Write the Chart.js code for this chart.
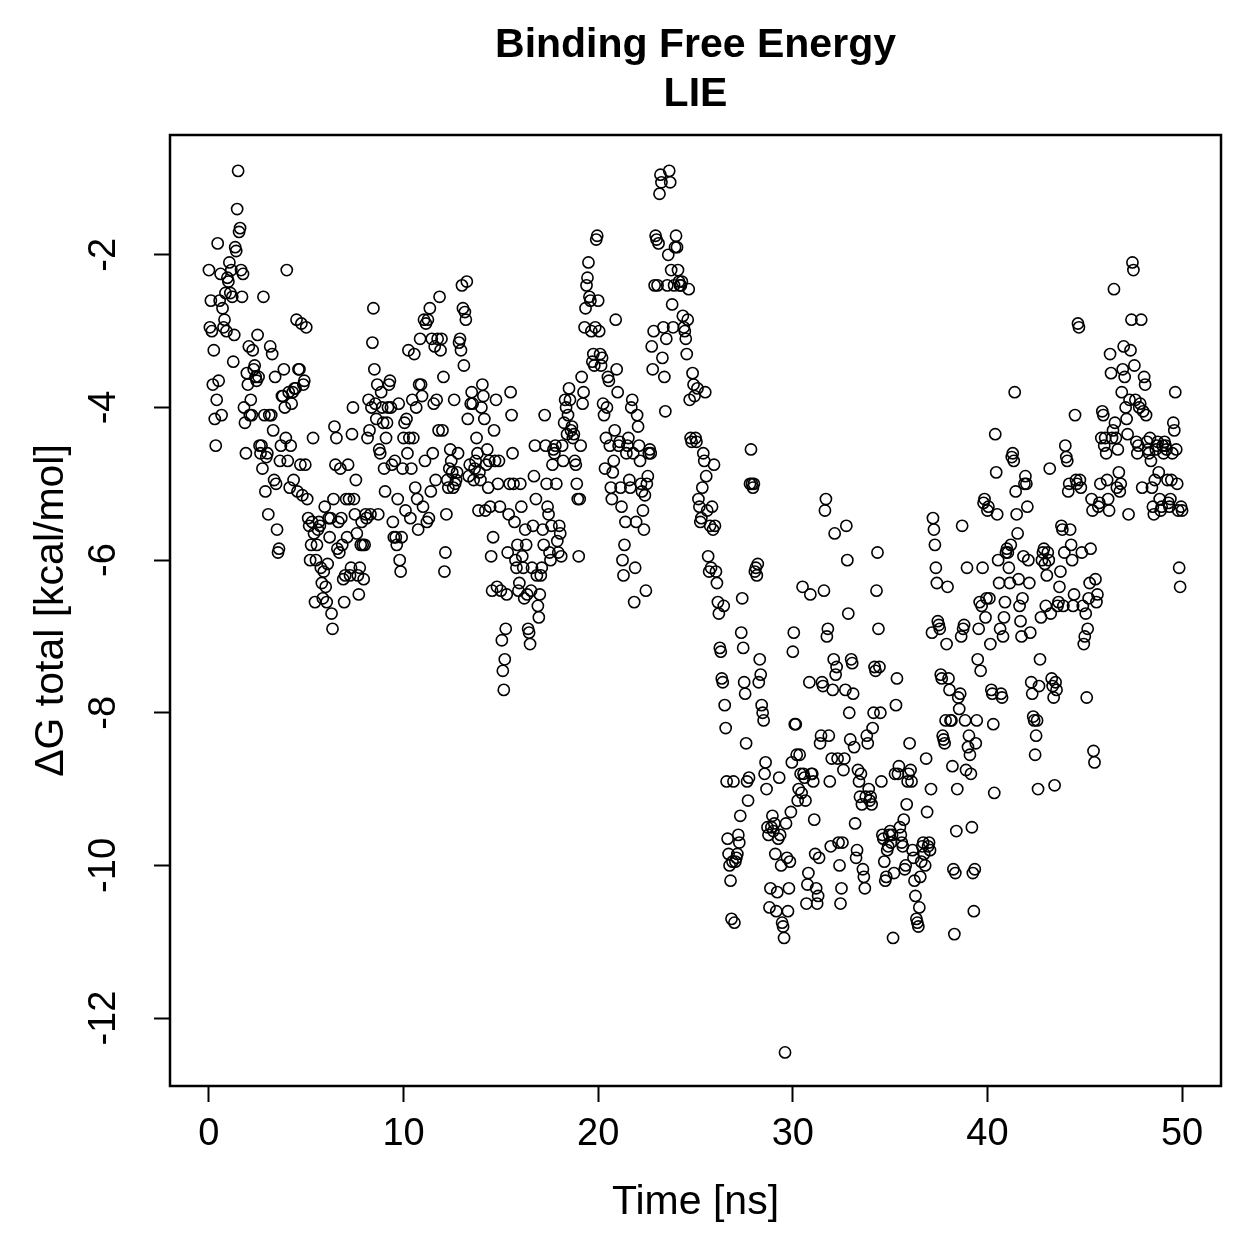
<!DOCTYPE html>
<html>
<head>
<meta charset="utf-8">
<title>Binding Free Energy - LIE</title>
<script src="https://cdn.jsdelivr.net/npm/chart.js@4.4.1/dist/chart.umd.min.js"></script>
<style>
    html, body { margin: 0; padding: 0; background: #fff; }
    canvas { display: block; }
</style>
</head>
<body>
<canvas id="lieChart" width="1259" height="1259"></canvas>
<script>
// Time between frames (ns) of the MD trajectory
const frameStepNs = 0.05;

// dG total [kcal/mol], one value per frame, split in 5 ns blocks
const dG_00_05 = [
    -2.2,-2.95,-2.6,-3.0,-3.7,-3.25,-4.15,-4.5,-3.9,-1.85,-3.65,-2.6,-2.25,-4.1,-2.7,-2.95,-2.85,-2.5,-3.0,-2.3,
    -2.35,-2.1,-2.5,-2.2,-2.55,-3.4,-3.05,-1.9,-1.95,-1.4,-0.9,-1.7,-1.65,-2.2,-2.55,-2.25,-4.0,-4.2,-4.6,-3.55,
    -3.7,-3.2,-4.1,-3.9,-4.1,-3.25,-3.5,-3.45,-3.6,-3.65,-3.05,-3.6,-4.5,-4.6,-4.5,-4.8,-2.55,-4.1,-5.1,-4.65,
    -4.6,-5.4,-4.1,-3.2,-4.1,-3.3,-4.3,-4.95,-3.6,-5.0,-5.6,-5.9,-5.85,-4.7,-4.5,-3.85,-3.85,-3.5,-4.0,-4.4,
    -2.2,-4.7,-3.8,-5.05,-4.5,-3.95,-3.8,-4.95,-3.75,-3.75,-2.85,-5.1,-3.5,-3.5,-4.75,-2.9,-5.15,-3.7,-3.65,-4.75
];
const dG_05_10 = [
    -2.95,-5.2,-5.45,-5.55,-6.0,-5.8,-5.5,-4.4,-5.65,-6.55,-6.0,-5.8,-5.6,-5.5,-5.55,-6.1,-6.3,-6.5,-6.15,-5.3,
    -6.35,-6.55,-6.05,-5.45,-5.7,-5.45,-6.7,-6.9,-5.2,-4.25,-4.75,-4.4,-5.85,-5.5,-5.9,-4.8,-5.45,-5.8,-6.25,-6.55,
    -6.2,-5.2,-5.7,-4.75,-5.2,-6.2,-6.1,-4.35,-4.0,-5.2,-5.4,-4.95,-5.65,-6.2,-6.45,-6.1,-5.8,-5.5,-5.8,-6.25,
    -5.8,-5.4,-5.45,-4.4,-3.9,-4.3,-5.4,-4.0,-3.15,-2.7,-3.5,-3.95,-4.15,-3.7,-5.4,-4.55,-4.6,-3.8,-4.0,-4.2,
    -4.8,-5.1,-4.4,-4.2,-4.0,-3.7,-3.65,-4.0,-4.75,-5.5,-5.7,-4.7,-5.7,-5.8,-5.2,-3.95,-6.0,-6.15,-5.7,-4.8
];
const dG_10_15 = [
    -4.4,-4.2,-5.35,-4.15,-4.6,-3.25,-4.4,-5.45,-4.8,-3.9,-4.4,-3.3,-5.05,-4.0,-5.2,-5.6,-3.7,-3.1,-3.7,-3.85,
    -5.3,-2.85,-4.7,-2.9,-5.5,-2.85,-5.45,-2.7,-5.1,-3.1,-4.6,-3.95,-3.2,-4.95,-3.9,-3.1,-4.3,-2.55,-3.25,-3.1,
    -4.3,-3.6,-6.15,-5.9,-5.4,-4.95,-5.05,-4.8,-4.55,-4.7,-4.85,-5.05,-3.9,-5.0,-4.95,-4.85,-4.6,-3.15,-3.1,-3.25,
    -2.4,-2.7,-3.45,-2.75,-2.85,-2.35,-4.15,-4.9,-4.75,-3.95,-3.8,-3.95,-4.95,-4.8,-4.7,-4.4,-4.6,-5.35,-4.85,-4.95,
    -4.0,-3.7,-3.85,-4.15,-5.35,-4.75,-4.55,-5.05,-4.7,-5.3,-5.95,-6.4,-5.7,-4.3,-4.7,-3.9,-6.35,-5.0,-4.7,-5.3
];
const dG_15_20 = [
    -6.4,-7.05,-7.45,-7.7,-7.3,-6.9,-6.45,-5.9,-5.4,-5.0,-3.8,-4.1,-4.6,-5.0,-5.5,-6.0,-6.1,-5.8,-6.4,-6.3,
    -5.0,-5.3,-5.95,-6.1,-6.5,-5.6,-5.8,-6.45,-6.9,-6.95,-7.1,-6.4,-6.1,-5.55,-4.9,-4.5,-5.2,-6.2,-6.6,-6.75,
    -6.45,-6.2,-6.1,-5.6,-5.8,-4.1,-4.5,-5.0,-5.3,-5.4,-5.9,-6.0,-5.55,-4.75,-4.55,-4.6,-4.5,-5.0,-5.75,-5.9,
    -5.55,-5.65,-5.95,-4.5,-4.7,-4.2,-3.9,-4.0,-4.35,-4.1,-3.75,-3.9,-4.3,-4.25,-4.4,-4.35,-4.7,-4.75,-5.0,-5.2,
    -5.95,-5.2,-4.5,-3.6,-3.95,-3.8,-2.95,-2.7,-2.4,-2.3,-2.1,-2.55,-2.6,-3.0,-3.4,-3.3,-3.45,-2.95,-1.8,-1.75
];
const dG_20_25 = [
    -2.6,-3.0,-3.3,-3.45,-3.35,-3.95,-4.1,-4.8,-4.4,-4.0,-3.6,-3.65,-4.5,-5.05,-5.2,-4.85,-4.7,-4.3,-2.85,-3.5,
    -3.8,-4.5,-4.45,-5.05,-5.3,-6.0,-6.2,-5.8,-5.5,-4.6,-4.5,-4.4,-4.95,-5.05,-4.0,-3.9,-4.6,-6.55,-6.1,-5.5,
    -4.1,-4.25,-4.5,-4.7,-5.0,-5.1,-5.35,-5.6,-5.15,-6.4,-5.0,-4.9,-4.6,-4.55,-4.6,-3.2,-3.5,-3.0,-2.4,-1.75,
    -1.8,-2.4,-1.85,-1.2,-0.95,-1.05,-3.35,-2.95,-3.6,-4.05,-3.1,-2.4,-2.0,-0.9,-1.05,-2.2,-2.65,-2.95,-2.4,-1.9,
    -1.75,-1.9,-2.2,-2.35,-2.4,-2.4,-2.35,-2.8,-2.95,-3.0,-3.1,-3.3,-2.85,-2.45,-3.9,-4.4,-4.45,-3.55,-3.7,-3.85
];
const dG_25_30 = [
    -4.4,-4.45,-3.75,-5.2,-5.3,-5.5,-5.45,-5.05,-4.6,-4.7,-3.8,-4.9,-5.35,-5.95,-6.15,-5.55,-6.1,-5.3,-5.6,-4.75,
    -5.55,-6.15,-6.3,-6.55,-6.7,-7.15,-7.2,-7.55,-7.6,-6.6,-7.9,-8.2,-8.9,-9.65,-9.85,-10.0,-10.2,-10.7,-9.95,-8.9,
    -10.75,-9.95,-9.9,-9.85,-9.6,-9.7,-9.35,-6.95,-6.5,-7.15,-7.6,-7.75,-8.4,-8.9,-9.15,-8.85,-5.0,-4.55,-5.0,-5.05,
    -5.0,-6.15,-6.1,-6.2,-6.05,-7.6,-7.3,-7.5,-7.9,-8.0,-8.1,-8.8,-8.65,-9.0,-9.5,-9.6,-10.55,-10.3,-9.5,-9.35,
    -9.55,-9.45,-9.85,-10.6,-10.35,-9.65,-8.85,-9.6,-10.0,-10.75,-10.8,-10.95,-12.45,-9.45,-9.9,-10.6,-10.3,-9.95,-9.3,-8.65
];
const dG_30_35 = [
    -7.2,-6.95,-8.15,-8.15,-8.55,-9.15,-9.0,-8.55,-8.8,-9.05,-6.35,-8.8,-8.85,-9.15,-10.5,-10.25,-10.1,-7.6,-6.45,-8.8,
    -8.8,-8.9,-9.4,-9.85,-10.3,-10.5,-10.4,-9.9,-8.4,-8.3,-7.6,-7.65,-6.4,-5.35,-5.2,-7.0,-6.9,-8.3,-8.9,-9.75,
    -8.6,-7.7,-7.3,-5.65,-7.5,-7.4,-8.6,-9.7,-10.0,-10.5,-10.3,-9.7,-8.75,-8.6,-7.7,-5.55,-6.0,-6.7,-8.0,-8.35,
    -7.3,-7.35,-7.75,-8.45,-9.45,-9.9,-9.8,-8.75,-8.9,-9.1,-8.8,-9.2,-10.05,-10.15,-10.3,-9.1,-8.3,-8.4,-9.0,-9.15,
    -9.1,-9.2,-8.2,-8.0,-7.4,-7.45,-6.4,-5.9,-6.9,-7.4,-8.0,-8.9,-9.6,-9.65,-9.95,-10.2,-10.15,-9.8,-9.75,-9.6
];
const dG_35_40 = [
    -9.55,-9.7,-9.6,-10.95,-10.1,-8.8,-7.9,-7.55,-8.8,-8.7,-9.5,-9.6,-9.7,-9.75,-9.4,-10.05,-10.0,-9.2,-8.9,-8.8,
    -8.4,-8.75,-8.9,-9.8,-9.9,-10.2,-10.4,-10.7,-10.75,-10.8,-10.55,-10.15,-9.95,-9.75,-9.7,-9.85,-10.0,-8.6,-9.3,-9.75,
    -9.7,-9.8,-9.0,-6.95,-5.45,-5.6,-5.8,-6.1,-6.3,-6.8,-6.85,-6.9,-7.5,-7.55,-8.3,-8.35,-8.4,-8.1,-7.1,-6.35,
    -7.55,-7.7,-8.1,-8.1,-8.7,-10.05,-10.9,-10.1,-9.55,-9.0,-7.8,-7.95,-7.75,-7.0,-5.55,-6.9,-6.85,-8.1,-8.75,-6.1,
    -8.45,-8.3,-8.55,-8.8,-9.5,-10.1,-10.6,-10.05,-8.4,-8.1,-7.3,-6.9,-6.55,-7.45,-6.6,-6.1,-5.25,-5.2,-6.75,-6.5
];
const dG_40_45 = [
    -5.35,-5.3,-6.5,-7.1,-7.7,-7.75,-8.15,-9.05,-4.35,-4.85,-5.4,-6.0,-6.3,-6.9,-7.75,-7.8,-7.0,-6.75,-6.55,-5.9,
    -5.85,-5.9,-6.1,-6.3,-5.8,-4.65,-4.6,-4.7,-3.8,-5.1,-5.4,-5.65,-6.25,-6.6,-6.8,-7.0,-6.5,-5.95,-5.0,-4.9,
    -5.0,-5.3,-6.0,-6.3,-6.95,-7.6,-7.75,-8.05,-8.1,-8.55,-8.3,-8.1,-9.0,-7.65,-7.3,-6.75,-6.0,-5.9,-5.85,-6.05,
    -6.6,-6.2,-5.9,-6.0,-4.8,-6.7,-7.55,-7.65,-7.8,-8.95,-7.6,-7.7,-6.6,-6.55,-6.35,-6.15,-5.55,-5.6,-6.6,-5.9,
    -4.5,-4.65,-4.7,-5.1,-5.0,-5.6,-5.8,-6.0,-6.6,-6.45,-4.1,-4.95,-5.0,-2.9,-2.95,-4.95,-5.05,-5.9,-6.6,-7.1
];
const dG_45_50 = [
    -7.0,-6.7,-7.8,-6.9,-6.5,-6.3,-5.85,-5.2,-5.35,-8.5,-8.65,-6.25,-6.55,-6.45,-5.3,-5.25,-5.0,-4.4,-4.05,-4.1,
    -4.5,-4.4,-4.6,-4.95,-5.2,-5.35,-3.3,-3.55,-4.4,-4.3,-2.45,-4.2,-4.4,-5.05,-4.55,-4.85,-5.1,-5.0,-3.8,-3.5,
    -3.2,-3.6,-4.0,-4.15,-4.35,-5.4,-3.9,-3.25,-2.85,-2.1,-2.2,-3.45,-3.9,-4.45,-4.6,-4.5,-4.0,-3.95,-2.85,-5.05,
    -4.05,-3.6,-3.7,-4.1,-4.45,-4.55,-4.6,-4.4,-4.7,-5.05,-5.3,-5.4,-4.95,-4.55,-4.5,-4.45,-4.85,-5.2,-5.35,-5.3,
    -4.5,-4.6,-4.45,-4.5,-4.55,-4.95,-5.25,-5.3,-5.2,-4.95,-4.6,-4.2,-4.3,-3.8,-4.55,-5.0,-5.35,-6.1,-6.35,-5.3,
    -5.35
];

// axis ticks (as in the R plot)
const xTickValues = [0, 10, 20, 30, 40, 50];
const yTickValues = [-2, -4, -6, -8, -10, -12];

const titleLines = ['Binding Free Energy', 'LIE'];
const xTitle = 'Time [ns]';
const yTitle = '\u0394G total [kcal/mol]';

// frames -> {x, y}
const allFrames = [].concat(dG_00_05, dG_05_10, dG_10_15, dG_15_20, dG_20_25,
                            dG_25_30, dG_30_35, dG_35_40, dG_40_45, dG_45_50);
const points = allFrames.map((v, i) => ({ x: +(i * frameStepNs).toFixed(2), y: v }));

const FONT = '"Liberation Sans", Arial, Helvetica, sans-serif';

// Draws the box, tick labels and titles the way base R does
const rFrame = {
    id: 'rFrame',
    afterDraw(chart) {
        const { ctx, chartArea: a, scales } = chart;
        ctx.save();
        ctx.strokeStyle = '#000';
        ctx.lineWidth = 2.5;
        ctx.strokeRect(a.left, a.top, a.right - a.left, a.bottom - a.top);

        ctx.fillStyle = '#000';
        ctx.textAlign = 'center';
        ctx.textBaseline = 'middle';

        // main title
        ctx.font = `bold 41px ${FONT}`;
        const cx = (a.left + a.right) / 2;
        ctx.fillText(titleLines[0], cx, 46);
        ctx.fillText(titleLines[1], cx, 95);

        // x tick labels + title
        ctx.font = `38px ${FONT}`;
        xTickValues.forEach(v => ctx.fillText(String(v), scales.x.getPixelForValue(v), 1135));
        ctx.font = `41px ${FONT}`;
        ctx.fillText(xTitle, cx, 1203);

        // y tick labels (rotated) + title
        ctx.font = `38px ${FONT}`;
        yTickValues.forEach(v => {
            ctx.save();
            ctx.translate(105, scales.y.getPixelForValue(v));
            ctx.rotate(-Math.PI / 2);
            ctx.fillText(String(v), 0, 0);
            ctx.restore();
        });
        ctx.save();
        ctx.font = `41px ${FONT}`;
        ctx.translate(52, (a.top + a.bottom) / 2);
        ctx.rotate(-Math.PI / 2);
        ctx.fillText(yTitle, 0, 0);
        ctx.restore();

        ctx.restore();
    }
};

new Chart(document.getElementById('lieChart'), {
    type: 'scatter',
    data: {
        datasets: [{
            data: points,
            pointStyle: 'circle',
            pointRadius: 5.6,
            pointBorderWidth: 1.6,
            borderColor: '#000',
            backgroundColor: 'rgba(0,0,0,0)',
            pointBackgroundColor: 'rgba(0,0,0,0)'
        }]
    },
    options: {
        responsive: false,
        animation: false,
        devicePixelRatio: 1,
        layout: { autoPadding: false, padding: { top: 135, right: 38, left: 0, bottom: 0 } },
        plugins: { legend: { display: false }, tooltip: { enabled: false } },
        scales: {
            x: {
                type: 'linear',
                min: -2, max: 52,
                border: { display: false },
                grid: { drawOnChartArea: false, drawTicks: true, tickLength: 16, tickWidth: 2, tickColor: '#000' },
                ticks: { display: false },
                afterBuildTicks: s => { s.ticks = xTickValues.map(v => ({ value: v })); },
                afterFit: s => { s.height = 173; }
            },
            y: {
                type: 'linear',
                min: -12.89, max: -0.43,
                border: { display: false },
                grid: { drawOnChartArea: false, drawTicks: true, tickLength: 16, tickWidth: 2, tickColor: '#000' },
                ticks: { display: false },
                afterBuildTicks: s => { s.ticks = yTickValues.map(v => ({ value: v })); },
                afterFit: s => { s.width = 170; }
            }
        }
    },
    plugins: [rFrame]
});
</script>
</body>
</html>
